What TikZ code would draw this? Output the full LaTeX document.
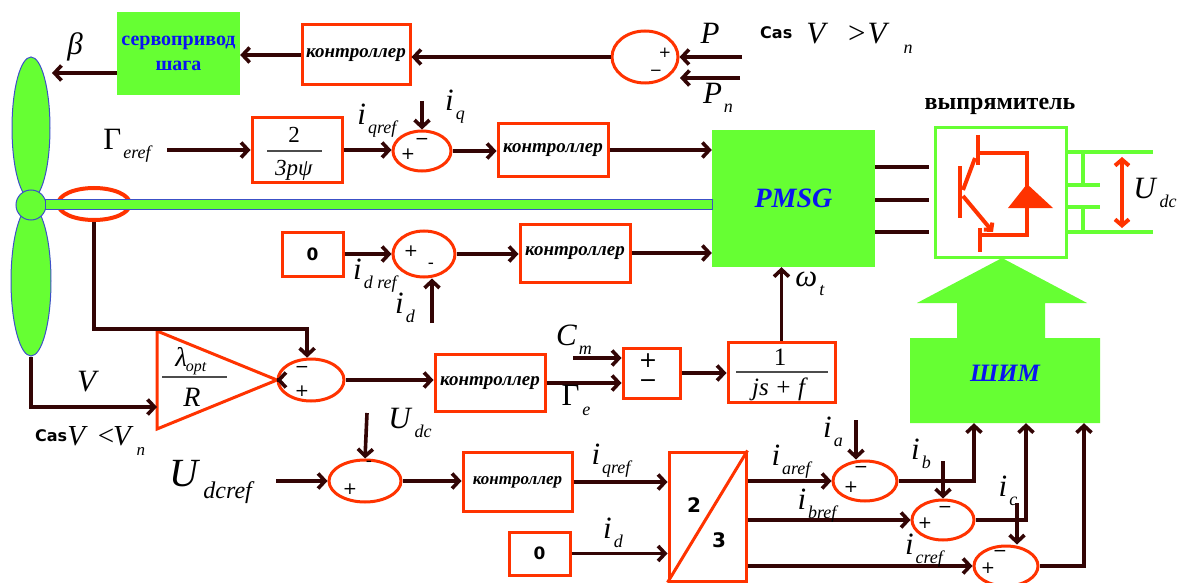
\documentclass[tikz,border=0pt]{standalone}
\usepackage{fontspec}
\setmainfont{Liberation Serif}
\newfontfamily\dejavu{DejaVu Sans}
\usetikzlibrary{shapes.geometric,arrows.meta,calc}
\definecolor{rd}{RGB}{255,51,0}
\definecolor{brn}{RGB}{51,5,5}
\definecolor{grn}{RGB}{102,255,51}
\definecolor{blu}{RGB}{10,20,240}
\definecolor{edge}{RGB}{60,80,200}
\newcommand\fs[1]{\fontsize{#1}{#1}\selectfont}
% symbol with lowered italic index
\newcommand\sy[2]{\textit{#1}\kern2pt\raisebox{-9pt}{\fs{18}\textit{#2}}}
\tikzset{
  redbox/.style={draw=rd, line width=3pt, fill=white, inner sep=0pt},
  ctrl/.style={redbox, font=\fs{19}\bfseries\itshape},
  sum/.style={ellipse, draw=rd, line width=3pt, fill=white, inner sep=0pt},
  arr/.style={draw=brn, line width=3.6pt, -{Straight Barb[length=7pt,width=15pt]}},
  wire/.style={draw=brn, line width=3.6pt},
  lab/.style={font=\fs{31}, inner sep=0pt},
  sign/.style={font=\dejavu\fs{17}, inner sep=0pt},
  zero/.style={redbox, font=\dejavu\bfseries\fs{17}},
  blade/.style={ellipse, fill=grn, draw=edge, line width=1pt, inner sep=0pt},
}
\begin{document}
\begin{tikzpicture}[x=1pt,y=-1pt]
\useasboundingbox (0,0) rectangle (1186,583);

% ---------- rotor ----------
\node[sum, line width=4pt, fill=none, minimum width=72, minimum height=32] (shaftell) at (94,204) {};
\node[blade, minimum width=38, minimum height=142] (bladeT) at (31,128) {};
\node[blade, minimum width=40, minimum height=150] (bladeB) at (31,281) {};
\node[circle, fill=grn, draw=edge, line width=1pt, minimum size=30, inner sep=0pt] (hub) at (31,205) {};

% ---------- generator ----------
\node[fill=grn, minimum width=163, minimum height=137, inner sep=0pt,
      font=\fs{28}\bfseries\itshape, text=blu] (PMSG) at (793.5,198.5) {PMSG};
\filldraw[fill=grn, draw=edge, line width=0.8pt] (45,199.5) rectangle (712,209.5);

% ---------- pitch loop ----------
\node[fill=grn, minimum width=123, minimum height=83, inner sep=0pt, align=center,
      font=\fs{20}\bfseries, text=blu] (servo) at (178.5,53.5) {сервопривод\\[5pt]шага};
\node[ctrl, minimum width=108, minimum height=60] (ctrlP) at (356,55) {контроллер};
\node[sum, minimum width=66, minimum height=52] (sumP) at (645,57) {};
\node[sign, font=\dejavu\fs{15}] at (665,53) {+};
\node[sign, font=\dejavu\fs{15}] at (656,73) {−};
\coordinate (Pin) at (742,57);
\coordinate (Pnin) at (740,78);
\coordinate (Pnend) at (680,78);
\coordinate (bladeTip) at (52,73);
\draw[arr] (Pin) -- (sumP.east);
\draw[arr] (Pnin) -- (Pnend);
\draw[arr] (sumP.west) -- (sumP.west -| ctrlP.east);
\draw[arr] (ctrlP.west) -- (ctrlP.west -| servo.east);
\draw[arr] (servo.west |- bladeTip) -- (bladeTip);
\node[lab] at (75,47) {\textit{β}};
\node[lab] at (710,33) {\textit{P}};
\node[lab] at (718,98) {\sy{P}{n}};
\node[lab, anchor=west] at (760,38) {\raisebox{5pt}{\dejavu\bfseries\fs{16}Cas}\kern14pt\textit{V}\kern20pt>\kern2pt\textit{V}\kern14pt\raisebox{-10pt}{\fs{18}\textit{n}}};

% ---------- q-axis current loop ----------
\coordinate (Gin) at (167,150);
\node[redbox, minimum width=90, minimum height=64] (gain) at (297,150) {};
\node[font=\fs{23}] at (294,135) {2};
\draw[black!70, line width=1.2pt] (267,151) -- (322,151);
\node[font=\fs{23}] at (294,170) {\textit{3pψ}};
\node[sum, minimum width=58, minimum height=40] (sumQ) at (422,151) {};
\node[sign] at (408,154) {+};
\node[sign] at (422,141) {−};
\node[ctrl, minimum width=110, minimum height=53] (ctrlQ) at (553,150) {контроллер};
\coordinate (iq0) at (422,101);
\draw[arr] (Gin) -- (gain.west);
\draw[arr] (gain.east) -- (gain.east -| sumQ.west);
\draw[arr] (sumQ.east) -- (sumQ.east -| ctrlQ.west);
\draw[arr] (ctrlQ.east) -- (ctrlQ.east -| PMSG.west);
\draw[arr] (iq0) -- (sumQ.north);
\node[lab] at (128,146) {Γ\kern2pt\raisebox{-9pt}{\fs{18}\textit{eref}}};
\node[lab] at (378,121) {\sy{i}{qref}};
\node[lab] at (455,107) {\sy{i}{q}};

% ---------- d-axis current loop ----------
\node[zero, minimum width=61, minimum height=44] (zeroD) at (312.5,254) {0};
\node[sum, minimum width=62, minimum height=46] (sumD) at (424,254) {};
\node[sign] at (411,251) {+};
\node[sign] at (431,266) {-};
\node[ctrl, minimum width=110, minimum height=58] (ctrlD) at (575,253) {контроллер};
\coordinate (id0) at (432,323);
\draw[arr] (zeroD.east) -- (zeroD.east -| sumD.west);
\draw[arr] (sumD.east) -- (sumD.east -| ctrlD.west);
\draw[arr] (ctrlD.east) -- (ctrlD.east -| PMSG.west);
\draw[arr] (id0) -- (id0 |- sumD.south);
\node[lab] at (376,276) {\sy{i}{d ref}};
\node[lab] at (405,308) {\sy{i}{d}};

% ---------- rectifier ----------
\node[draw=grn, line width=3pt, minimum width=131, minimum height=129, inner sep=0pt] (rect) at (1000.5,192.5) {};
\node[font=\fs{24}\bfseries] at (1000,106) {выпрямитель};
\foreach \dy in {-31.5,1.5,33.5}{
  \coordinate (g) at ($(PMSG.east)+(0,\dy)$);
  \draw[wire] (g) -- ($(g -| rect.west)+(-5,0)$);
}
\begin{scope}[rd, line width=4pt]
  \draw (978,135) -- (978,165);
  \draw (978,153) -- (1027,153) -- (1027,235) -- (980,235);
  \draw (975,158) -- (963,190);
  \draw (960,166) -- (960,218);
  \draw[-{Straight Barb[length=5pt,width=11pt]}] (963,196) -- (993,232);
  \draw (980,228) -- (980,252);
  \fill (1027,184) -- (1053,208) -- (1008,208) -- cycle;
\end{scope}
\begin{scope}[grn, line width=4pt]
  \draw (1066,152) -- (1153,152);
  \draw (1066,232) -- (1153,232);
  \draw (1083,152) -- (1083,185);
  \draw (1066,185) -- (1100,185);
  \draw (1066,207) -- (1100,207);
  \draw (1083,207) -- (1083,232);
\end{scope}
\draw[rd, line width=4pt, {Straight Barb[length=6pt,width=14pt]}-{Straight Barb[length=6pt,width=14pt]}] (1122,157) -- (1122,228);
\node[lab] at (1155,193) {\sy{U}{dc}};

% ---------- speed / torque loop ----------
\draw[rd, line width=3pt, fill=white] (157,331) -- (277,380) -- (157,429) -- cycle;
\coordinate (triIn) at (157,407);
\coordinate (triOut) at (277,380);
\node[font=\fs{27}] at (191,361) {\textit{λ}\kern-1pt\raisebox{-5pt}{\fs{16}\textit{opt}}};
\draw[black!70, line width=1.2pt] (162,377) -- (227,377);
\node[font=\fs{28}] at (192,397) {\textit{R}};
\node[sum, minimum width=66, minimum height=42] (sumT) at (311,380) {};
\node[sign] at (302,369) {−};
\node[sign] at (302,391) {+};
\node[ctrl, minimum width=110, minimum height=57] (ctrlT) at (490,383) {контроллер};
\node[redbox, minimum width=57, minimum height=50] (sumM) at (651.5,373) {};
\node[font=\dejavu\fs{22}, inner sep=0pt] at (648,361) {+};
\node[font=\dejavu\fs{22}, inner sep=0pt] at (648,384) {−};
\node[redbox, minimum width=107, minimum height=60] (mech) at (781.5,372) {};
\node[font=\fs{25}] at (780,357) {1};
\draw[black!70, line width=1.2pt] (736,372) -- (828,372);
\node[font=\fs{25}] at (780,389) {\textit{js} \textit{+ f}};
\coordinate (Cm0) at (573,358);
\draw[arr] (bladeB.south) |- (triIn);
\draw[arr] (shaftell.south) -- ++(0,107) -| (sumT.100);
\draw[arr] (triOut) -- (sumT.west);
\draw[arr] (sumT.east) -- (sumT.east -| ctrlT.west);
\draw[arr] (ctrlT.east) -- (ctrlT.east -| sumM.west);
\draw[arr] (Cm0) -- (Cm0 -| sumM.west);
\draw[arr] (sumM.east) -- (sumM.east -| mech.west);
\draw[arr] (mech.north) -- (mech.north |- PMSG.south);
\node[lab] at (88,382) {\textit{V}};
\node[lab] at (574,340) {\sy{C}{m}};
\node[lab] at (576,400) {Γ\kern3pt\raisebox{-10pt}{\fs{18}\textit{e}}};
\node[lab] at (810,284) {\sy{ω}{t}};
\node[lab, anchor=west, font=\fs{29}] at (35,441) {\raisebox{4pt}{\dejavu\bfseries\fs{16}Cas}\textit{V}\kern10pt<\kern-1pt\textit{V}\kern3pt\raisebox{-10pt}{\fs{17}\textit{n}}};

% ---------- PWM ----------
\node[minimum width=190, minimum height=85, inner sep=0pt] (pwm) at (1005,380.5) {};
\fill[grn] (910,423) -- (910,338) -- (957,338) -- (957,303) -- (917,303) -- (1002,258)
  -- (1087,303) -- (1045,303) -- (1045,338) -- (1100,338) -- (1100,423) -- cycle;
\node[font=\fs{25}\bfseries\itshape, text=blu] at (1005,373) {ШИМ};
\coordinate (pA) at ($(pwm.south)+(-31,0)$);
\coordinate (pB) at ($(pwm.south)+(21,0)$);
\coordinate (pC) at ($(pwm.south)+(79,0)$);

% ---------- DC voltage loop and abc currents ----------
\coordinate (Uref) at (276,481);
\coordinate (Udc0) at (367,413);
\node[sum, minimum width=72, minimum height=42] (sumU) at (365,481) {};
\node[sign] at (350,489) {+};
\node[sign] at (369,464) {-};
\node[ctrl, font=\fs{17}\bfseries\itshape, minimum width=109, minimum height=59] (ctrlU) at (517.5,482) {контроллер};
\node[zero, minimum width=61, minimum height=43] (zeroQ) at (539.5,553.5) {0};
\node[redbox, minimum width=77, minimum height=129] (abc) at (707.5,516.5) {};
\draw[rd, line width=3pt] (abc.south west) -- (abc.north east);
\node[font=\dejavu\bfseries\fs{20}] at (694,505) {2};
\node[font=\dejavu\bfseries\fs{20}] at (719,540) {3};
\node[sum, minimum width=64, minimum height=40] (ca) at (865,481) {};
\node[sum, minimum width=62, minimum height=40] (cb) at (943,520) {};
\node[sum, minimum width=64, minimum height=40] (cc) at (1006,566) {};
\node[sign] at (861,469) {−};
\node[sign] at (851,487) {+};
\node[sign] at (945,509) {−};
\node[sign] at (925,523) {+};
\node[sign] at (1000,553) {−};
\node[sign] at (988,568) {+};
\coordinate (ia0) at (856,420);
\coordinate (ib0) at (943,461);
\coordinate (ic0) at (1017,503);
\draw[arr] (Uref) -- (sumU.west);
\draw[arr] (Udc0) -- (sumU.north);
\draw[arr] (sumU.east) -- (sumU.east -| ctrlU.west);
\draw[arr] (ctrlU.east) -- (ctrlU.east -| abc.west);
\draw[arr] (zeroQ.east) -- (zeroQ.east -| abc.west);
\draw[arr] (abc.east |- ca.west) -- (ca.west);
\draw[arr] (abc.east |- cb.west) -- (cb.west);
\draw[arr] (abc.east |- cc.west) -- (cc.west);
\draw[arr] (ca.east) -| (pA);
\draw[arr] (cb.east) -| (pB);
\draw[arr] (cc.east) -| (pC);
\draw[arr] (ia0) -- (ia0 |- ca.north);
\draw[arr] (ib0) -- (ib0 |- cb.north);
\draw[arr] (ic0) -- (ic0 |- cc.north);
\node[lab] at (410,423) {\sy{U}{dc}};
\node[lab, font=\fs{40}] at (212,482) {\textit{U}\kern3pt\raisebox{-12pt}{\fs{24}\textit{dcref}}};
\node[lab] at (612,461) {\sy{i}{qref}};
\node[lab] at (613,533) {\sy{i}{d}};
\node[lab] at (792,462) {\sy{i}{aref}};
\node[lab] at (818,506) {\sy{i}{bref}};
\node[lab] at (925,551) {\sy{i}{cref}};
\node[lab] at (833,432) {\sy{i}{a}};
\node[lab] at (921,454) {\sy{i}{b}};
\node[lab] at (1008,491) {\sy{i}{c}};
\end{tikzpicture}
\end{document}
